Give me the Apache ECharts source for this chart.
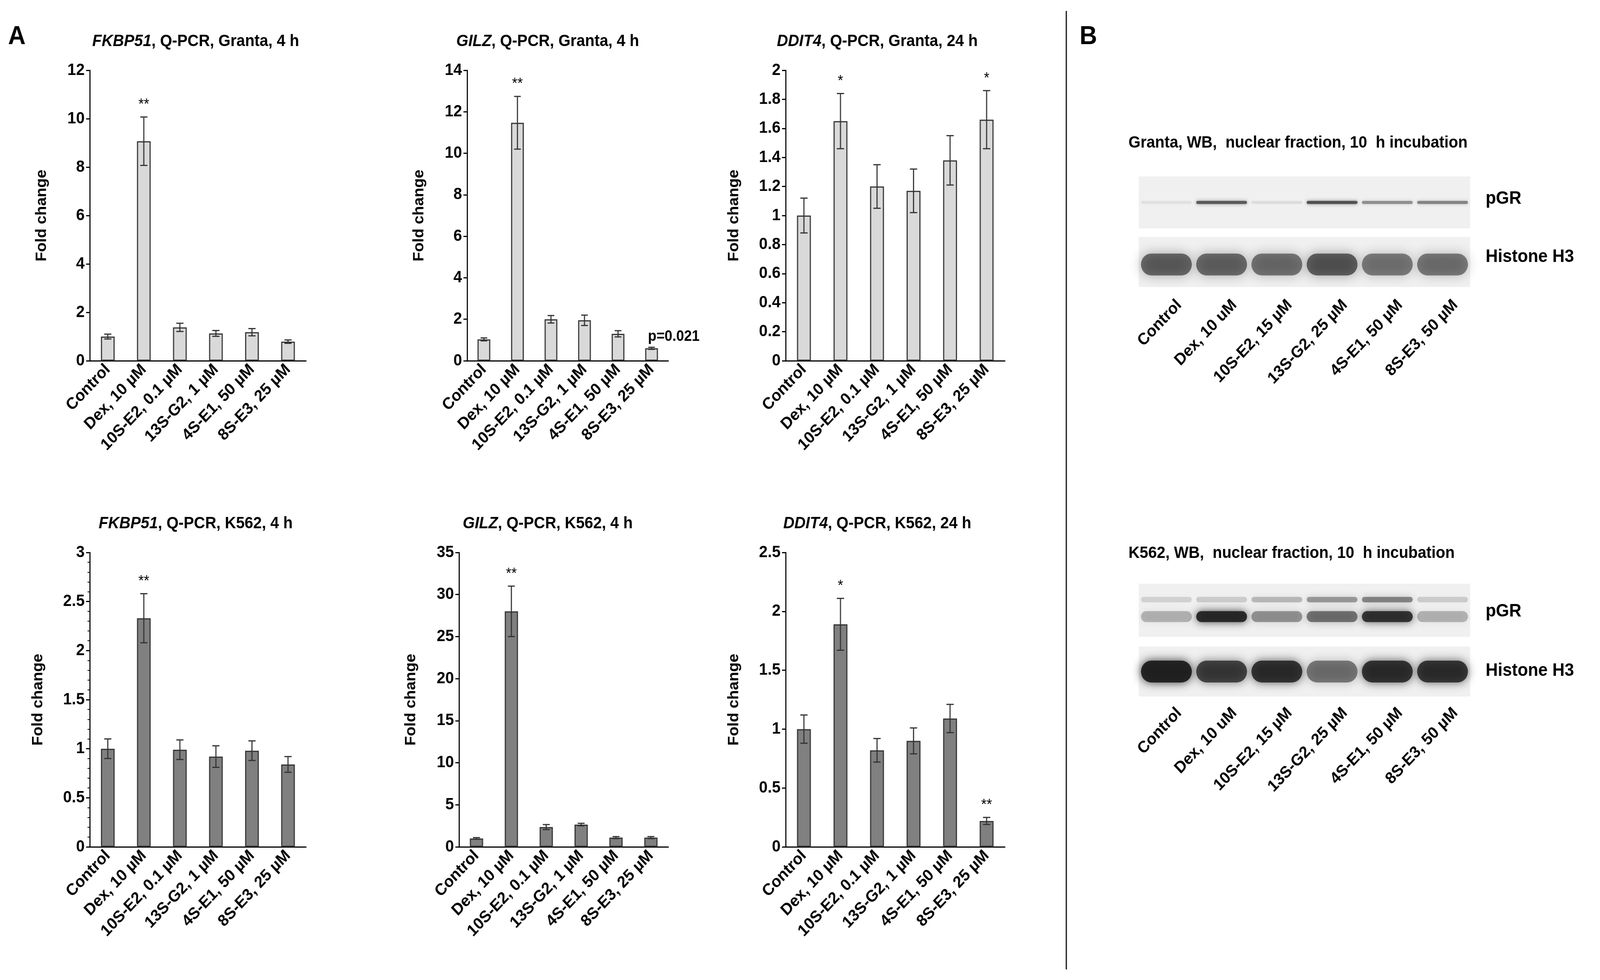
<!DOCTYPE html>
<html>
<head>
<meta charset="utf-8">
<script src="https://cdn.jsdelivr.net/npm/echarts@6/dist/echarts.min.js"></script>
<style>html,body{margin:0;padding:0;background:#fff;overflow:hidden}#c{width:4350px;height:2510px;transform-origin:0 0}</style>
</head>
<body>
<div id="c"></div>
<script>
// categories
var cats = ['Control', 'Dex, 10 µM', '10S-E2, 0.1 µM', '13S-G2, 1 µM', '4S-E1, 50 µM', '8S-E3, 25 µM'];
var wbCatsGranta = ['Control', 'Dex, 10 uM', '10S-E2, 15 µM', '13S-G2, 25 µM', '4S-E1, 50 µM', '8S-E3, 50 µM'];
var wbCatsK562 = ['Control', 'Dex, 10 uM', '10S-E2, 15 µM', '13S-G2, 25 µM', '4S-E1, 50 µM', '8S-E3, 50 µM'];

// Granta, top row
var fkbpGranta = [1.0, 9.07, 1.38, 1.13, 1.18, 0.79];
var fkbpGrantaErr = [0.1, 1.0, 0.17, 0.12, 0.15, 0.07];
var fkbpGrantaMark = ['', '**', '', '', '', ''];
var gilzGranta = [1.03, 11.47, 2.0, 1.95, 1.3, 0.6];
var gilzGrantaErr = [0.07, 1.27, 0.18, 0.25, 0.15, 0.05];
var gilzGrantaMark = ['', '**', '', '', '', 'p=0.021'];
var dditGranta = [1.0, 1.65, 1.2, 1.17, 1.38, 1.66];
var dditGrantaErr = [0.12, 0.19, 0.15, 0.15, 0.17, 0.2];
var dditGrantaMark = ['', '*', '', '', '', '*'];
// K562, bottom row
var fkbpK562 = [1.0, 2.33, 0.99, 0.92, 0.98, 0.84];
var fkbpK562Err = [0.1, 0.25, 0.1, 0.11, 0.1, 0.08];
var fkbpK562Mark = ['', '**', '', '', '', ''];
var gilzK562 = [1.0, 28.0, 2.35, 2.65, 1.1, 1.1];
var gilzK562Err = [0.1, 3.0, 0.3, 0.15, 0.12, 0.12];
var gilzK562Mark = ['', '**', '', '', '', ''];
var dditK562 = [1.0, 1.89, 0.82, 0.9, 1.09, 0.22];
var dditK562Err = [0.12, 0.22, 0.1, 0.11, 0.12, 0.03];
var dditK562Mark = ['', '*', '', '', '', '**'];

// blot band intensities (0..1) per lane
var grantaPgr = [0.08, 0.7, 0.1, 0.75, 0.45, 0.5];
var grantaH3 = [0.8, 0.78, 0.72, 0.85, 0.68, 0.7];
var k562PgrUpper = [0.25, 0.3, 0.45, 0.7, 0.85, 0.3];
var k562PgrLower = [0.3, 1.0, 0.45, 0.6, 0.95, 0.3];
var k562H3 = [1.0, 0.8, 0.9, 0.55, 0.9, 0.88];

var panels = [
  {gene: 'FKBP51', rest: ', Q-PCR, Granta, 4 h', v: fkbpGranta, e: fkbpGrantaErr, m: fkbpGrantaMark, max: 12, iv: 2, left: 244, w: 588, top: 180, h: 744, col: '#d9d9d9', minor: false, tx: 527, ty: 80},
  {gene: 'GILZ', rest: ', Q-PCR, Granta, 4 h', v: gilzGranta, e: gilzGrantaErr, m: gilzGrantaMark, max: 14, iv: 2, left: 1270, w: 547, top: 180, h: 744, col: '#d9d9d9', minor: false, tx: 1484, ty: 80},
  {gene: 'DDIT4', rest: ', Q-PCR, Granta, 24 h', v: dditGranta, e: dditGrantaErr, m: dditGrantaMark, max: 2, iv: 0.2, left: 2136, w: 596, top: 180, h: 744, col: '#d9d9d9', minor: false, tx: 2380, ty: 80},
  {gene: 'FKBP51', rest: ', Q-PCR, K562, 4 h', v: fkbpK562, e: fkbpK562Err, m: fkbpK562Mark, max: 3, iv: 0.5, left: 244, w: 588, top: 1415, h: 754, col: '#808080', minor: true, tx: 527, ty: 1315},
  {gene: 'GILZ', rest: ', Q-PCR, K562, 4 h', v: gilzK562, e: gilzK562Err, m: gilzK562Mark, max: 35, iv: 5, left: 1248, w: 569, top: 1415, h: 754, col: '#808080', minor: false, tx: 1484, ty: 1315},
  {gene: 'DDIT4', rest: ', Q-PCR, K562, 24 h', v: dditK562, e: dditK562Err, m: dditK562Mark, max: 2.5, iv: 0.5, left: 2136, w: 596, top: 1415, h: 754, col: '#808080', minor: false, tx: 2380, ty: 1315}
];

var FONT = 'Liberation Sans, Arial, sans-serif';
var grids = [], xAxes = [], yAxes = [], series = [], titles = [];

panels.forEach(function (p, k) {
  grids.push({left: p.left, top: p.top, width: p.w, height: p.h, containLabel: false});
  titles.push({
    text: '{i|' + p.gene + '}' + p.rest, left: p.tx, top: p.ty, textAlign: 'center',
    textStyle: {fontFamily: FONT, fontSize: 42, fontWeight: 'bold', color: '#000',
      rich: {i: {fontFamily: FONT, fontSize: 42, fontWeight: 'bold', fontStyle: 'italic', color: '#000'}}}
  });
  xAxes.push({
    type: 'category', gridIndex: k, data: cats,
    axisLine: {lineStyle: {color: '#000', width: 3}}, axisTick: {show: false},
    axisLabel: {rotate: 45, interval: 0, fontFamily: FONT, fontSize: 42, fontWeight: 'bold', color: '#000', margin: 16}
  });
  yAxes.push({
    type: 'value', gridIndex: k, min: 0, max: p.max, interval: p.iv,
    name: 'Fold change', nameLocation: 'middle', nameGap: p.iv < 1 ? 120 : 110,
    nameTextStyle: {fontFamily: FONT, fontSize: 40, fontWeight: 'bold', color: '#000'},
    axisLine: {show: true, lineStyle: {color: '#000', width: 3}},
    axisTick: {show: true, length: 10, lineStyle: {color: '#000', width: 3}},
    minorTick: {show: p.minor, splitNumber: 5, length: 6, lineStyle: {color: '#000', width: 2}},
    splitLine: {show: false},
    axisLabel: {fontFamily: FONT, fontSize: 42, fontWeight: 'bold', color: '#000', margin: 14}
  });
  series.push({
    type: 'bar', xAxisIndex: k, yAxisIndex: k, data: p.v, barWidth: '38%',
    itemStyle: {color: p.col, borderColor: '#333', borderWidth: 3}, animation: false
  });
  var ed = p.v.map(function (v, i) { return [i, v - p.e[i], v + p.e[i], p.m[i]]; });
  series.push({
    type: 'custom', xAxisIndex: k, yAxisIndex: k, data: ed, z: 5, animation: false,
    renderItem: function (params, api) {
      var x = api.value(0);
      var lo = api.coord([x, api.value(1)]);
      var hi = api.coord([x, api.value(2)]);
      var hw = api.size([1, 0])[0] * 0.1;
      var st = {stroke: '#333', lineWidth: 3};
      var ch = [
        {type: 'line', shape: {x1: hi[0], y1: hi[1], x2: lo[0], y2: lo[1]}, style: st},
        {type: 'line', shape: {x1: hi[0] - hw, y1: hi[1], x2: hi[0] + hw, y2: hi[1]}, style: st},
        {type: 'line', shape: {x1: lo[0] - hw, y1: lo[1], x2: lo[0] + hw, y2: lo[1]}, style: st}
      ];
      var mk = ed[params.dataIndex][3];
      if (mk) {
        var isP = mk.charAt(0) === 'p';
        ch.push({type: 'text', x: isP ? hi[0] - 10 : hi[0], y: hi[1] - (isP ? 8 : 12),
          style: {text: mk, fill: '#000', font: (isP ? 'bold 38px ' : '38px ') + FONT,
            textAlign: isP ? 'left' : 'center', textVerticalAlign: 'bottom'}});
      }
      return {type: 'group', children: ch};
    }
  });
});

// panel B: blots drawn as decoration
var graphics = [
  {type: 'text', left: 22, top: 62, style: {text: 'A', font: 'bold 66px ' + FONT, fill: '#000'}},
  {type: 'text', left: 2935, top: 62, style: {text: 'B', font: 'bold 66px ' + FONT, fill: '#000'}},
  {type: 'line', shape: {x1: 2899, y1: 28, x2: 2899, y2: 2483}, style: {stroke: '#000', lineWidth: 3}}
];

function blot(x0, x1, y0, y1, lanes, yFrac, thick, blur, alphaScale) {
  var lw = (x1 - x0) / lanes.length;
  lanes.forEach(function (a, i) {
    var cx = x0 + (i + 0.5) * lw;
    graphics.push({
      type: 'rect', shape: {x: cx - lw * 0.46, y: y0 + (y1 - y0) * yFrac - thick / 2, width: lw * 0.92, height: thick, r: thick / 2},
      style: {fill: 'rgba(30,30,30,' + (a * alphaScale) + ')', shadowBlur: blur, shadowColor: 'rgba(30,30,30,' + (a * alphaScale) + ')'}
    });
  });
}
function blotBox(x0, x1, y0, y1) {
  graphics.push({type: 'rect', shape: {x: x0, y: y0, width: x1 - x0, height: y1 - y0}, style: {fill: '#f0f0f0'}});
}
function laneLabels(x0, x1, y, labels) {
  var lw = (x1 - x0) / labels.length;
  labels.forEach(function (t, i) {
    graphics.push({type: 'text', x: x0 + (i + 0.5) * lw + 20, y: y, rotation: Math.PI / 4,
      style: {text: t, font: 'bold 42px ' + FONT, fill: '#000', textAlign: 'right', textVerticalAlign: 'top'}});
  });
}
var bx0 = 3096, bx1 = 3997;
// Granta
graphics.push({type: 'text', left: 3068, top: 345, style: {text: 'Granta, WB,  nuclear fraction, 10  h incubation', font: 'bold 42px ' + FONT, fill: '#000'}});
blotBox(bx0, bx1, 452, 585);
blot(bx0, bx1, 452, 585, grantaPgr, 0.5, 8, 10, 0.9);
blotBox(bx0, bx1, 607, 735);
blot(bx0, bx1, 607, 735, grantaH3, 0.55, 56, 30, 0.75);
graphics.push({type: 'text', left: 4039, top: 486, style: {text: 'pGR', font: 'bold 46px ' + FONT, fill: '#000'}});
graphics.push({type: 'text', left: 4039, top: 635, style: {text: 'Histone H3', font: 'bold 46px ' + FONT, fill: '#000'}});
laneLabels(bx0, bx1, 760, wbCatsGranta);
// K562
graphics.push({type: 'text', left: 3068, top: 1396, style: {text: 'K562, WB,  nuclear fraction, 10  h incubation', font: 'bold 42px ' + FONT, fill: '#000'}});
blotBox(bx0, bx1, 1495, 1631);
blot(bx0, bx1, 1495, 1631, k562PgrUpper, 0.3, 14, 18, 0.55);
blot(bx0, bx1, 1495, 1631, k562PgrLower, 0.62, 28, 22, 0.9);
blotBox(bx0, bx1, 1656, 1784);
blot(bx0, bx1, 1656, 1784, k562H3, 0.5, 56, 24, 0.95);
graphics.push({type: 'text', left: 4039, top: 1543, style: {text: 'pGR', font: 'bold 46px ' + FONT, fill: '#000'}});
graphics.push({type: 'text', left: 4039, top: 1695, style: {text: 'Histone H3', font: 'bold 46px ' + FONT, fill: '#000'}});
laneLabels(bx0, bx1, 1805, wbCatsK562);

// fit the 4350x2510 drawing into the actual viewport
var el = document.getElementById('c');
var vw = window.innerWidth || 4350, vh = window.innerHeight || 2510;
if (vw < 4350 || vh < 2510) {
  el.style.transform = 'scale(' + (vw / 4350) + ',' + (vh / 2510) + ')';
}

var chart = echarts.init(el);
chart.setOption({
  backgroundColor: '#fff',
  animation: false,
  title: titles,
  grid: grids,
  xAxis: xAxes,
  yAxis: yAxes,
  series: series,
  graphic: graphics
});
</script>
</body>
</html>
